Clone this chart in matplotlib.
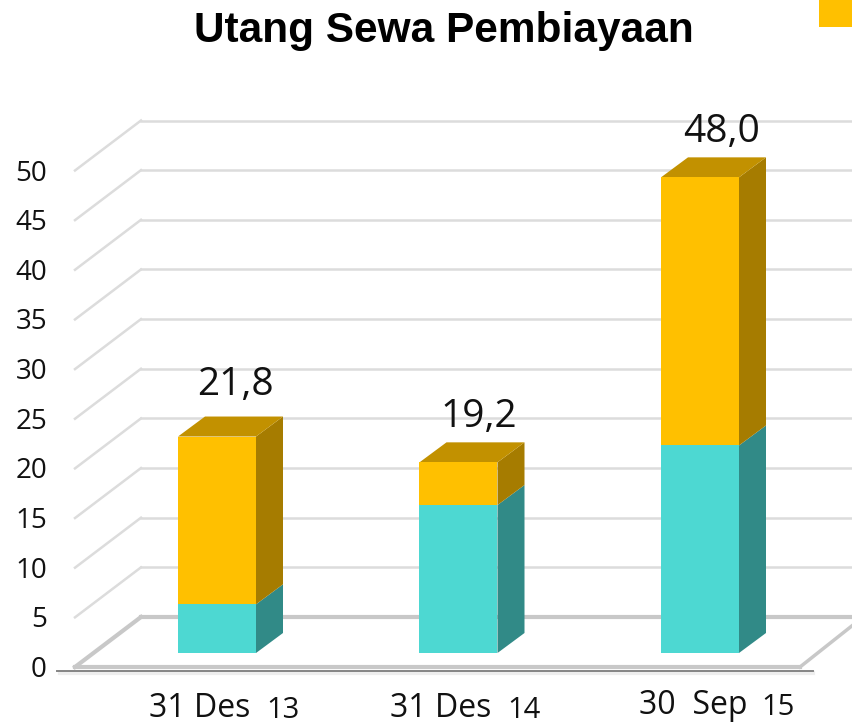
import matplotlib

matplotlib.use("Agg")

import matplotlib.pyplot as plt
from matplotlib.patches import Polygon, Rectangle

FIG_W, FIG_H = 853, 724
PX_PER_CAT = 241.5
PX_PER_UNIT = 9.93
FIRST_BAR_PX = 217
BASE_PX = 653

title = "Utang Sewa Pembiayaan"
ticks = [0, 5, 10, 15, 20, 25, 30, 35, 40, 45, 50]
categories = ["31 Des", "31 Des", "30  Sep"]
years = ["13", "14", "15"]
teal_values = [4.9, 14.9, 20.9]
gold_values = [16.9, 4.3, 27.0]
labels = ["21,8", "19,2", "48,0"]

TEAL, TEAL_SIDE = "#4dd8d2", "#318a87"
GOLD, GOLD_SIDE, GOLD_TOP = "#ffc000", "#a67c00", "#c29100"
GRID = "#dcdcdc"
FLOOR = "#c8c8c8"

plt.rcParams["font.family"] = ["Open Sans", "DejaVu Sans"]

fig = plt.figure(figsize=(FIG_W / 100, FIG_H / 100), dpi=100)
ax = fig.add_axes([0, 0, 1, 1])
ax.set_xlim(-FIRST_BAR_PX / PX_PER_CAT, (FIG_W - FIRST_BAR_PX) / PX_PER_CAT)
ax.set_ylim((BASE_PX - FIG_H) / PX_PER_UNIT, BASE_PX / PX_PER_UNIT)
ax.axis("off")


def dx(px):
    return px / PX_PER_CAT


def dy(px):
    return px / PX_PER_UNIT


def x_at(px):
    return (px - FIRST_BAR_PX) / PX_PER_CAT


# walls: front edge of the floor sits 14 px below the bars, back wall 36 px above
front = dy(-14)
back = dy(36)
for tick in ticks:
    color = FLOOR if tick == 0 else GRID
    width = 3 if tick == 0 else 1.8
    ax.plot([x_at(75), x_at(141)], [tick + front, tick + back], color=color, lw=width, zorder=1)
    ax.plot([x_at(141), x_at(853)], [tick + back, tick + back], color=color, lw=width, zorder=1)
    ax.text(x_at(47), tick + front - dy(3), str(tick), ha="right", va="center", fontsize=20, color="#111111")

# floor edges and axis line
ax.plot([x_at(75), x_at(800)], [front, front], color=FLOOR, lw=3, zorder=2)
ax.plot([x_at(800), x_at(853)], [front, front + dy(42)], color=FLOOR, lw=2.5, zorder=2)
ax.plot([x_at(60), x_at(813)], [front - dy(6), front - dy(6)], color="#eeeeee", lw=3, zorder=2)
ax.plot([x_at(57), x_at(813)], [front - dy(4), front - dy(4)], color="#858585", lw=1.4, zorder=3)

# bars
half = dx(39)
side_x = dx(27)
side_y = dy(20)
for i, (teal, gold) in enumerate(zip(teal_values, gold_values)):
    left, right = i - half, i + half
    bottom = 0
    for value, face, side in [(teal, TEAL, TEAL_SIDE), (gold, GOLD, GOLD_SIDE)]:
        top = bottom + value
        ax.add_patch(Rectangle((left, bottom), 2 * half, value, fc=face, ec="none", zorder=5))
        ax.add_patch(Polygon(
            [(right, bottom), (right + side_x, bottom + side_y), (right + side_x, top + side_y), (right, top)],
            fc=side, ec="none", zorder=4,
        ))
        bottom = top
    ax.add_patch(Polygon(
        [(left, bottom), (left + side_x, bottom + side_y), (right + side_x, bottom + side_y), (right, bottom)],
        fc=GOLD_TOP, ec="none", zorder=4,
    ))

# value labels
label_dx = [18, 20, 22]
label_dy = [52, 45, 45]
for i, (teal, gold) in enumerate(zip(teal_values, gold_values)):
    ax.text(i + dx(label_dx[i]), teal + gold + dy(label_dy[i]), labels[i],
            ha="center", va="center", fontsize=28, color="#111111", zorder=6)

# category labels, the year is set smaller next to the date
cat_dx = [-17, -18, -7]
year_dx = [66, 65, 78]
cat_y = [-5.6, -5.6, -5.3]
for i, (cat, year) in enumerate(zip(categories, years)):
    ax.text(i + dx(cat_dx[i]), cat_y[i], cat, ha="center", va="center", fontsize=23, color="#111111")
    ax.text(i + dx(year_dx[i]), cat_y[i] - 0.2, year, ha="center", va="center", fontsize=21, color="#111111")

ax.text(x_at(444), (BASE_PX - 31) / PX_PER_UNIT, title, ha="center", va="center",
        fontsize=30.5, fontweight="bold", family="Liberation Sans", color="#000000")

# corner swatch from the cropped slide
ax.add_patch(Rectangle((x_at(819), (BASE_PX - 27) / PX_PER_UNIT), dx(34), dy(27), fc=GOLD, ec="none"))

fig.savefig("out.png", dpi=100)
plt.close(fig)
